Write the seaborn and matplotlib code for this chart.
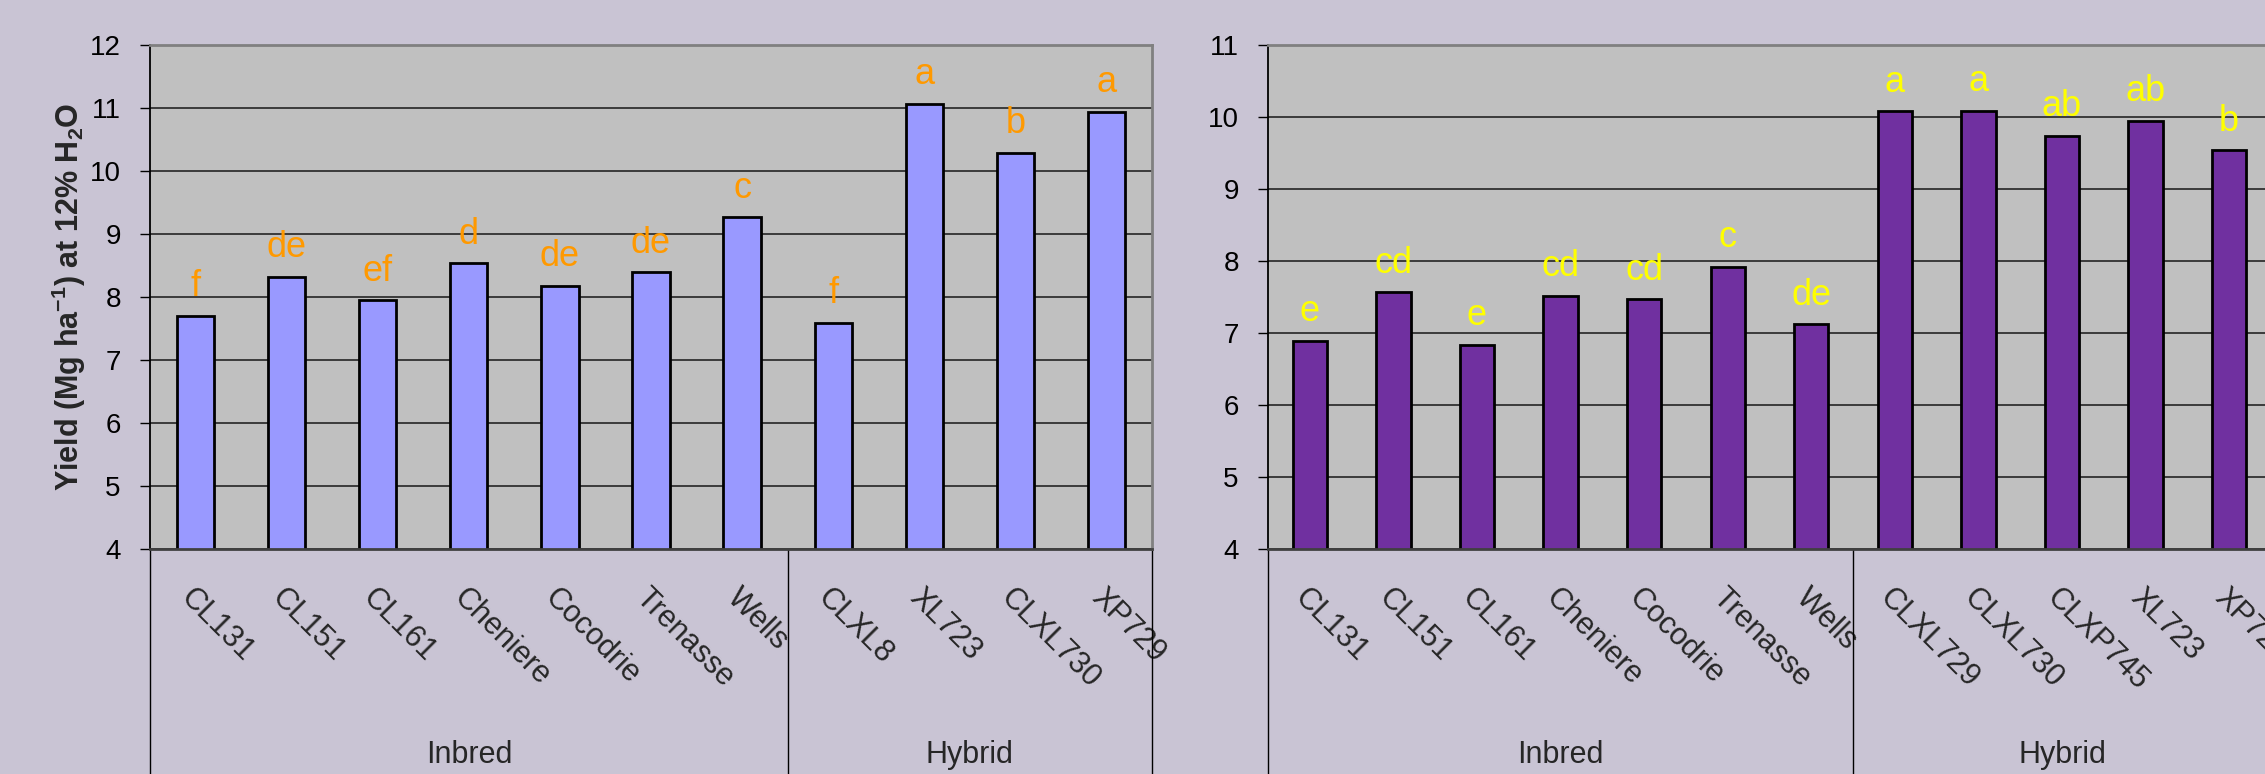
import matplotlib
matplotlib.use("Agg")
import matplotlib.pyplot as plt
import matplotlib.transforms as mtransforms
import pandas as pd
import seaborn as sns

# ── data ─────────────────────────────────────────────────────────────────────
left_names   = ["CL131", "CL151", "CL161", "Cheniere", "Cocodrie", "Trenasse", "Wells",
                "CLXL8", "XL723", "CLXL730", "XP729"]
left_yield   = [7.70, 8.32, 7.95, 8.54, 8.18, 8.39, 9.27, 7.59, 11.07, 10.29, 10.94]
left_letters = ["f", "de", "ef", "d", "de", "de", "c", "f", "a", "b", "a"]

right_names   = ["CL131", "CL151", "CL161", "Cheniere", "Cocodrie", "Trenasse", "Wells",
                 "CLXL729", "CLXL730", "CLXP745", "XL723", "XP729"]
right_yield   = [6.89, 7.57, 6.84, 7.52, 7.47, 7.92, 7.12, 10.08, 10.09, 9.74, 9.95, 9.54]
right_letters = ["e", "cd", "e", "cd", "cd", "c", "de", "a", "a", "ab", "ab", "b"]

groups    = ["Inbred", "Hybrid"]
n_inbred  = 7

BG       = "#C9C4D4"
PLOT_BG  = "#C0C0C0"

sns.set_style("white")
plt.rcParams["font.family"] = ["Liberation Sans", "DejaVu Sans"]
plt.rcParams["mathtext.fontset"] = "custom"
plt.rcParams["mathtext.rm"] = "Liberation Sans"
plt.rcParams["mathtext.bf"] = "Liberation Sans:bold"

fig = plt.figure(figsize=(22.65, 7.74), dpi=100, facecolor=BG)
ax1 = fig.add_axes([150 / 2265, 225 / 774, 1002 / 2265, 504 / 774])
ax2 = fig.add_axes([1268 / 2265, 225 / 774, 1003 / 2265, 504 / 774])


def draw(ax, names, vals, letters, bar_col, let_col, ymax):
    df = pd.DataFrame({"name": names, "yield": vals})
    sns.barplot(data=df, x="name", y="yield", order=names, color=bar_col,
                saturation=1, width=0.41, edgecolor="black", linewidth=2, ax=ax)
    ax.set_facecolor(PLOT_BG)
    ax.set_ylim(4, ymax)
    ax.set_xlim(-0.5, len(names) - 0.5)
    ax.set_yticks(range(4, ymax + 1))
    ax.yaxis.grid(True, color="#303030", lw=1.3)
    ax.set_axisbelow(True)
    ax.set_xlabel("")
    ax.set_ylabel("")
    ax.tick_params(axis="y", direction="out", length=7, width=1, pad=14,
                   labelsize=20, left=True, colors="black")
    ax.tick_params(axis="x", length=0, pad=24, labelsize=22)
    ax.set_xticks(range(len(names)))
    ax.set_xticklabels(names, rotation=-45, ha="left", va="top", rotation_mode="anchor")
    for side in ["top", "right"]:
        ax.spines[side].set_color("#808080")
        ax.spines[side].set_linewidth(2)
    ax.spines["left"].set_color("black")
    ax.spines["left"].set_linewidth(1.3)
    ax.spines["bottom"].set_color("#404040")
    ax.spines["bottom"].set_linewidth(2)

    for i, (v, l) in enumerate(zip(vals, letters)):
        ax.annotate(l, (i, v), xytext=(0, 14), textcoords="offset points",
                    ha="center", va="baseline", color=let_col, fontsize=26)

    # group separators and group labels below the category labels
    trans = mtransforms.blended_transform_factory(ax.transData, ax.transAxes)
    for x in [-0.5, n_inbred - 0.5, len(names) - 0.5]:
        ax.plot([x, x], [0, -0.5], transform=trans, clip_on=False, color="black", lw=1)
    centers = [(n_inbred - 1) / 2, (n_inbred + len(names) - 1) / 2]
    for g, c in zip(groups, centers):
        ax.text(c, -0.425, g, transform=trans, ha="center", va="baseline", fontsize=22)


draw(ax1, left_names, left_yield, left_letters, "#9999FF", "#FF9900", 12)
draw(ax2, right_names, right_yield, right_letters, "#7030A0", "#FFFF00", 11)

ax1.set_ylabel(r"Yield (Mg ha$^{\mathbf{-1}}$) at 12% H$_{\mathbf{2}}$O",
               fontsize=22, fontweight="bold")
ax1.yaxis.set_label_coords(-0.062, 0.5)

plt.savefig("out.png", dpi=100, facecolor=BG)
